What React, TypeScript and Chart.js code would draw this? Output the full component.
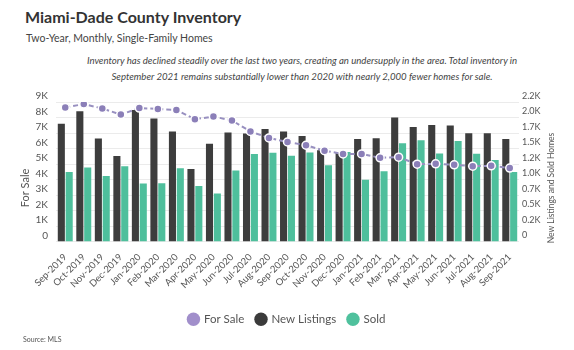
import React, { useEffect, useRef } from "react";
import { Chart, registerables } from "chart.js";

Chart.register(...registerables);

const months = [
  "Sep-2019", "Oct-2019", "Nov-2019", "Dec-2019", "Jan-2020", "Feb-2020", "Mar-2020",
  "Apr-2020", "May-2020", "Jun-2020", "Jul-2020", "Aug-2020", "Sep-2020", "Oct-2020",
  "Nov-2020", "Dec-2020", "Jan-2021", "Feb-2021", "Mar-2021", "Apr-2021", "May-2021",
  "Jun-2021", "Jul-2021", "Aug-2021", "Sep-2021",
];

const forSale = [
  8640, 8870, 8580, 8190, 8610, 8550, 8490, 7890, 8060, 7810, 7100, 6680, 6420,
  6210, 5860, 5650, 5650, 5400, 5440, 4990, 5010, 4950, 4860, 4880, 4740,
];

const newListings = [
  1900, 2100, 1660, 1380, 2120, 1985, 1775, 1170, 1575, 1760, 1740, 1815, 1775,
  1700, 1470, 1430, 1655, 1665, 2000, 1845, 1880, 1870, 1745, 1745, 1655,
];

const sold = [
  1120, 1195, 1055, 1215, 935, 940, 1180, 895, 775, 1145, 1410, 1430, 1385,
  1435, 1230, 1445, 995, 1135, 1585, 1635, 1420, 1620, 1415, 1315, 1120,
];

const leftTickLabels = ["0", "1K", "2K", "3K", "4K", "5K", "6K", "7K", "8K", "9K"];
const rightTickLabels = ["0", "0.2K", "0.5K", "0.7K", "1.0K", "1.2K", "1.5K", "1.7K", "2.0K", "2.2K"];

const seriesNames = ["For Sale", "New Listings", "Sold"];
const legendColors = ["#a18fcb", "#3b3b3b", "#4fc19d"];

const FONT = "Lato, 'Open Sans', sans-serif";
const TEXT = "#555";

const axisTitles = {
  id: "axisTitles",
  afterDraw(chart: any) {
    const ctx = chart.ctx;
    ctx.save();
    ctx.fillStyle = TEXT;
    ctx.textAlign = "center";
    ctx.textBaseline = "middle";
    ctx.font = `11px ${FONT}`;
    ctx.translate(25, 103);
    ctx.rotate(-Math.PI / 2);
    ctx.fillText("For Sale", 0, 0);
    ctx.restore();
    ctx.save();
    ctx.fillStyle = TEXT;
    ctx.textAlign = "center";
    ctx.textBaseline = "middle";
    ctx.font = `8.5px ${FONT}`;
    ctx.translate(551, 103);
    ctx.rotate(-Math.PI / 2);
    ctx.fillText("New Listings and Sold Homes", 0, 0);
    ctx.restore();
  },
};

export default function App() {
  const ref = useRef<HTMLCanvasElement | null>(null);

  useEffect(() => {
    if (!ref.current) return;
    Chart.defaults.font.family = FONT;
    const chart = new Chart(ref.current, {
      type: "bar",
      data: {
        labels: months,
        datasets: [
          {
            type: "line",
            label: seriesNames[0],
            data: forSale,
            yAxisID: "y",
            order: 0,
            borderColor: "#9890c0",
            borderWidth: 2,
            borderDash: [5, 3],
            backgroundColor: "#8b7fb8",
            pointBackgroundColor: "#8b7fb8",
            pointBorderColor: "#ffffff",
            pointBorderWidth: 1.5,
            pointRadius: 4,
            tension: 0,
          } as any,
          {
            type: "bar",
            label: seriesNames[1],
            data: newListings,
            yAxisID: "y1",
            order: 1,
            backgroundColor: "#3d3d3d",
            categoryPercentage: 0.85,
            barPercentage: 0.9,
          },
          {
            type: "bar",
            label: seriesNames[2],
            data: sold,
            yAxisID: "y1",
            order: 2,
            backgroundColor: "#4ebf9c",
            categoryPercentage: 0.85,
            barPercentage: 0.9,
          },
        ],
      },
      options: {
        responsive: false,
        animation: false,
        layout: { padding: { top: 17, left: 0, right: 0, bottom: 0 } },
        plugins: {
          tooltip: { enabled: false },
          legend: {
            position: "bottom",
            labels: {
              usePointStyle: true,
              pointStyle: "circle",
              boxWidth: 9.5,
              boxHeight: 9.5,
              padding: 12,
              color: TEXT,
              font: { size: 11.5, family: FONT },
              generateLabels: (c: any) => {
                const items = Chart.defaults.plugins.legend.labels.generateLabels(c);
                return items.map((it: any) => ({
                  ...it,
                  fillStyle: legendColors[it.datasetIndex],
                  strokeStyle: legendColors[it.datasetIndex],
                  lineWidth: 0,
                  lineDash: [],
                  pointStyle: "circle",
                }));
              },
            },
          },
        },
        scales: {
          x: {
            grid: { display: false },
            border: { display: false },
            ticks: {
              color: TEXT,
              font: { size: 9.5, family: FONT },
              minRotation: 45,
              maxRotation: 45,
              autoSkip: false,
              padding: 2,
            },
            afterFit: (s: any) => {
              s.height = 60;
            },
          },
          y: {
            position: "left",
            min: 0,
            max: 9000,
            grid: { color: "#ebebeb", drawTicks: false },
            border: { display: false },
            ticks: {
              stepSize: 1000,
              color: TEXT,
              font: { size: 10, family: FONT },
              padding: 8,
              labelOffset: -6,
              callback: (v: any) => leftTickLabels[Math.round(Number(v) / 1000)],
            },
            afterFit: (s: any) => {
              s.width = 56;
            },
          },
          y1: {
            position: "right",
            min: 0,
            max: 2250,
            grid: { display: false, drawTicks: false },
            border: { display: false },
            ticks: {
              stepSize: 250,
              color: TEXT,
              font: { size: 9, family: FONT },
              padding: 3,
              labelOffset: -6,
              callback: (v: any) => rightTickLabels[Math.round(Number(v) / 250)],
            },
            afterFit: (s: any) => {
              s.width = 55;
            },
          },
        },
      },
      plugins: [axisTitles],
    });
    return () => chart.destroy();
  }, []);

  return (
    <div
      style={{
        position: "absolute",
        left: 0,
        top: 0,
        width: 574,
        height: 350,
        background: "#fff",
        fontFamily: FONT,
        overflow: "hidden",
      }}
    >
      <div
        style={{
          position: "absolute",
          left: 25,
          top: 6,
          fontSize: 16,
          fontWeight: 700,
          color: "#333",
          lineHeight: "22px",
          whiteSpace: "nowrap",
        }}
      >
        Miami-Dade County Inventory
      </div>
      <div
        style={{
          position: "absolute",
          left: 26,
          top: 30,
          fontSize: 10.5,
          color: "#444",
          lineHeight: "16px",
          whiteSpace: "nowrap",
        }}
      >
        Two-Year, Monthly, Single-Family Homes
      </div>
      <div
        style={{
          position: "absolute",
          left: 0,
          width: 604,
          top: 53,
          textAlign: "center",
          fontSize: 9.6,
          fontStyle: "italic",
          color: "#444",
          lineHeight: "16px",
        }}
      >
        <div style={{ whiteSpace: "nowrap" }}>
          Inventory has declined steadily over the last two years, creating an undersupply in the area. Total inventory in
        </div>
        <div style={{ whiteSpace: "nowrap" }}>
          September 2021 remains substantially lower than 2020 with nearly 2,000 fewer homes for sale.
        </div>
      </div>
      <canvas
        ref={ref}
        width={574}
        height={250}
        style={{ position: "absolute", left: 0, top: 85, width: 574, height: 250 }}
      />
      <div
        style={{
          position: "absolute",
          left: 23,
          top: 334,
          fontSize: 7,
          color: "#555",
          lineHeight: "10px",
        }}
      >
        Source: MLS
      </div>
    </div>
  );
}
